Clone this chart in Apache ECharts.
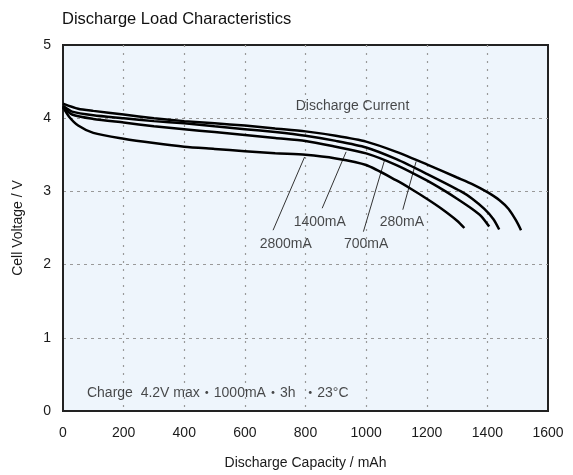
<!DOCTYPE html>
<html>
<head>
<meta charset="utf-8">
<script src="https://cdn.jsdelivr.net/npm/echarts@6/dist/echarts.min.js"></script>
<style>html,body{margin:0;padding:0;background:#fff;}#c{width:573px;height:475px;}</style>
</head>
<body>
<div id="c"></div>
<script>
const seriesNames = ['280mA', '700mA', '1400mA', '2800mA'];
const cap280 = [0, 50, 100, 200, 300, 400, 500, 600, 700, 800, 900, 1000, 1100, 1200, 1300, 1350, 1400, 1440, 1470, 1495, 1511];
const volt280 = [4.2, 4.13, 4.1, 4.05, 4.0, 3.96, 3.93, 3.90, 3.86, 3.82, 3.76, 3.68, 3.54, 3.37, 3.19, 3.10, 2.99, 2.88, 2.76, 2.60, 2.47];
const cap700 = [0, 30, 100, 200, 300, 400, 500, 600, 700, 800, 900, 1000, 1100, 1200, 1313, 1350, 1390, 1420, 1439];
const volt700 = [4.17, 4.09, 4.04, 4.0, 3.96, 3.93, 3.89, 3.85, 3.81, 3.76, 3.69, 3.60, 3.44, 3.24, 3.0, 2.9, 2.76, 2.62, 2.48];
const cap1400 = [0, 30, 100, 200, 300, 400, 500, 600, 700, 800, 900, 1000, 1100, 1200, 1258, 1300, 1350, 1380, 1406];
const volt1400 = [4.15, 4.05, 3.99, 3.94, 3.89, 3.85, 3.81, 3.77, 3.73, 3.69, 3.61, 3.52, 3.36, 3.15, 3.01, 2.9, 2.76, 2.66, 2.52];
const cap2800 = [0, 20, 50, 100, 200, 300, 400, 500, 600, 700, 800, 900, 1000, 1100, 1150, 1200, 1250, 1300, 1324];
const volt2800 = [4.15, 4.02, 3.9, 3.8, 3.72, 3.66, 3.61, 3.58, 3.55, 3.52, 3.5, 3.45, 3.36, 3.15, 3.03, 2.9, 2.76, 2.6, 2.5];

const xTicks = [0, 200, 400, 600, 800, 1000, 1200, 1400, 1600];
const yTicks = [0, 1, 2, 3, 4, 5];

// leader lines: [x1, y1, x2, y2] in data units
const leader280 = [1121, 2.75, 1165, 3.41];
const leader700 = [991, 2.45, 1061, 3.43];
const leader1400 = [855, 2.77, 934, 3.54];
const leader2800 = [693, 2.47, 797, 3.47];

// text labels
const labelTexts = ['280mA', '700mA', '1400mA', '2800mA', 'Discharge Current'];
const labelX = [1118, 1000, 847, 735, 955];
const labelY = [2.58, 2.28, 2.58, 2.28, 4.17];
const noteText = 'Charge  4.2V max・1000mA・3h  ・23\u00B0C';
const noteX = 79, noteY = 0.24;

const caps = [cap280, cap700, cap1400, cap2800];
const volts = [volt280, volt700, volt1400, volt2800];
const leaders = [leader280, leader700, leader1400, leader2800];

const FONT = '"Liberation Sans", Arial, "Noto Sans CJK JP", sans-serif';

const curveSeries = seriesNames.map((n, i) => ({
  name: n,
  type: 'line',
  smooth: 0.25,
  showSymbol: false,
  silent: true,
  lineStyle: { color: '#000', width: 2.5 },
  data: caps[i].map((c, k) => [c, volts[i][k]]),
  z: 3
}));

const leaderSeries = leaders.map((l) => ({
  type: 'line',
  showSymbol: false,
  silent: true,
  lineStyle: { color: '#333', width: 1 },
  data: [[l[0], l[1]], [l[2], l[3]]],
  z: 2
}));

const labelSeries = {
  type: 'scatter',
  symbolSize: 0,
  silent: true,
  data: labelTexts.map((t, i) => ({ value: [labelX[i], labelY[i]], name: t })),
  label: {
    show: true,
    position: 'inside',
    formatter: p => p.name,
    color: '#1a1a1a',
    fontSize: 14,
    fontFamily: FONT
  },
  z: 5
};

const noteSeries = {
  type: 'scatter',
  symbolSize: 0,
  silent: true,
  data: [{ value: [noteX, noteY], name: noteText }],
  label: {
    show: true,
    position: 'right',
    distance: 0,
    formatter: p => p.name,
    color: '#1a1a1a',
    fontSize: 14,
    fontFamily: FONT
  },
  z: 5
};

const chart = echarts.init(document.getElementById('c'), null, { renderer: 'canvas' });
chart.setOption({
  animation: false,
  backgroundColor: '#fff',
  title: {
    text: 'Discharge Load Characteristics',
    left: 57, top: 6,
    textStyle: { fontFamily: FONT, fontSize: 16.5, fontWeight: 'normal', color: '#111' }
  },
  grid: {
    left: 63, right: 25, top: 45, bottom: 64,
    show: true,
    backgroundColor: '#eef5fc',
    borderColor: '#222',
    borderWidth: 2
  },
  xAxis: {
    type: 'value',
    min: 0, max: 1600, interval: 200,
    name: 'Discharge Capacity / mAh',
    nameLocation: 'middle',
    nameGap: 45,
    nameTextStyle: { fontFamily: FONT, fontSize: 14, color: '#1a1a1a' },
    axisLine: { show: true, lineStyle: { color: '#222', width: 2 } },
    axisTick: { show: false },
    axisLabel: { margin: 15, fontFamily: FONT, fontSize: 14, color: '#1a1a1a',
      formatter: v => xTicks.includes(v) ? String(v) : '' },
    splitLine: { show: true, showMinLine: false, showMaxLine: false,
      lineStyle: { color: '#999', type: [2, 6], width: 1.2 } }
  },
  yAxis: {
    type: 'value',
    min: 0, max: 5, interval: 1,
    name: 'Cell Voltage / V',
    nameLocation: 'middle',
    nameGap: 38,
    nameTextStyle: { fontFamily: FONT, fontSize: 14, color: '#1a1a1a' },
    axisLine: { show: true, lineStyle: { color: '#222', width: 2 } },
    axisTick: { show: false },
    axisLabel: { margin: 12, fontFamily: FONT, fontSize: 14, color: '#1a1a1a',
      formatter: v => yTicks.includes(v) ? String(v) : '' },
    splitLine: { show: true, showMinLine: false, showMaxLine: false,
      lineStyle: { color: '#999', type: [3, 4], width: 1.2 } }
  },
  series: [...curveSeries, ...leaderSeries, labelSeries, noteSeries]
});
</script>
</body>
</html>
